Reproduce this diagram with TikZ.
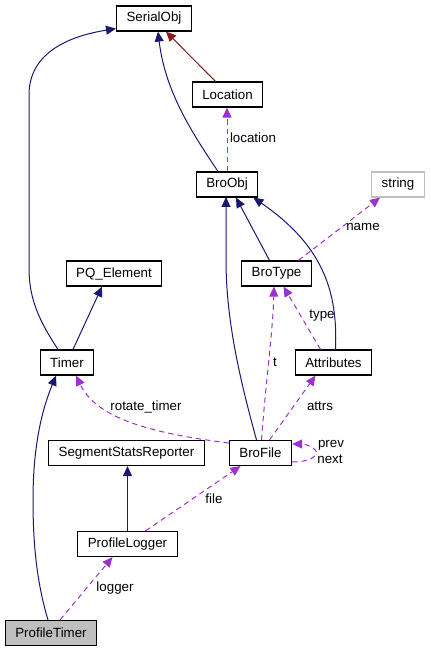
\documentclass[tikz,border=0pt]{standalone}
\usepackage{fontspec}
\setmainfont{Liberation Sans}
\usepackage{xcolor}
\usetikzlibrary{arrows.meta,calc}
\definecolor{inhblue}{HTML}{191970}
\definecolor{usepurple}{HTML}{9A32CD}
\definecolor{tplred}{HTML}{8B1A1A}
\definecolor{boxgray}{HTML}{BFBFBF}
\tikzset{
  cls/.style={draw=black, line width=0.9pt, fill=white, inner xsep=7.5pt, inner ysep=0pt,
    minimum height=18.75pt, font=\fontsize{10}{12}\selectfont},
  inh/.style={draw=inhblue, line width=0.75pt, -{Triangle[length=7.5pt,width=6.75pt]}},
  tpl/.style={draw=tplred, line width=0.75pt, -{Triangle[length=7.5pt,width=6.75pt]}},
  usage/.style={draw=usepurple, line width=0.75pt, dash pattern=on 4pt off 3pt,
    -{Triangle[length=7.5pt,width=6.75pt]}},
  lbl/.style={font=\fontsize{10}{12}\selectfont, inner sep=0pt, text=black}
}
\begin{document}
\begin{tikzpicture}[x=0.75pt,y=-0.75pt]
\useasboundingbox (0,0) rectangle (431,652);

\node[cls] (serialobj) at (154,18.5) {SerialObj};
\node[cls] (location) at (227.5,94.5) {Location};
\node[cls] (broobj) at (227,184.5) {BroObj};
\node[cls, draw=boxgray] (string) at (398,184.5) {string};
\node[cls] (pq) at (114,273.5) {PQ\_Element};
\node[cls] (brotype) at (276.5,273.5) {BroType};
\node[cls] (timer) at (67,362.5) {Timer};
\node[cls] (attributes) at (333.5,362.5) {Attributes};
\node[cls] (ssr) at (126.5,453) {SegmentStatsReporter};
\node[cls] (brofile) at (260.5,453) {BroFile};
\node[cls] (plogger) at (127.5,544) {ProfileLogger};
\node[cls, fill=boxgray] (ptimer) at (51,633) {ProfileTimer};

\draw[inh] ($(timer.north)+(-9,0)$) .. controls (40,322) and (29,300) .. (29,268) -- (29,95)
  .. controls (29,52) and (70,36) .. ($(serialobj.south west)+(0,-3)$);
\draw[inh] ($(timer.north)+(6,0)$) -- ($(pq.south)+(-12,0)$);
\draw[inh] ($(ptimer.north)+(-3,0)$) .. controls (36,580) and (33,540) .. (33,500)
  .. controls (33,440) and (44,405) .. ($(timer.south)+(-11,0)$);
\draw[inh] (plogger.north) -- (plogger.north |- ssr.south);
\draw[inh] ($(brofile.north)+(-4,0)$) .. controls (240,380) and (226,320) .. (226,260) -- (226,197);
\draw[inh] ($(brotype.north)+(-7,0)$) -- ($(broobj.south)+(9,0)$);
\draw[inh] ($(attributes.north)+(2,0)$) .. controls (338,290) and (322,245) .. ($(broobj.south east)+(-5,0)$);
\draw[inh] ($(broobj.north)+(-9,0)$) .. controls (190,130) and (165,90) .. ($(serialobj.south)+(4,0)$);
\draw[tpl] ($(location.north)+(-12,0)$) -- ($(serialobj.south)+(12,0)$);

\draw[usage] ($(ptimer.north)+(9,0)$) -- ($(plogger.south)+(-15,0)$)
  node[lbl] at (115,588) {logger};
\draw[usage] ($(plogger.north)+(18,0)$) -- ($(brofile.south)+(-20,0)$)
  node[lbl] at (214,499) {file};
\draw[usage] ($(brofile.east)+(0,9)$) .. controls (308,462) and (318,457) .. (316,451)
  .. controls (314,447) and (305,444) .. ($(brofile.east)+(0,-9)$);
\node[lbl] (lblprev) at (331,445) {prev};
\node[lbl] (lblnext) at (330,459) {next};
\draw[usage] ($(brofile.west)+(0,-10)$) .. controls (140,432) and (95,415) .. ($(timer.south)+(9,0)$)
  node[lbl] at (146,407) {rotate\_timer};
\draw[usage] ($(brofile.north)+(1,0)$) .. controls (265,390) and (273,330) .. ($(brotype.south)+(-2.5,0)$)
  node[lbl] at (275,362) {t};
\draw[usage] ($(brofile.north)+(9,0)$) -- ($(attributes.south)+(-18,0)$)
  node[lbl] at (320,406) {attrs};
\draw[usage] ($(attributes.north)+(-13,0)$) -- ($(brotype.south)+(7,0)$)
  node[lbl] at (322,316) {type};
\draw[usage] ($(brotype.north)+(22,0)$) -- ($(string.south)+(-18,0)$)
  node[lbl] at (363,227) {name};
\draw[usage] (broobj.north) -- (broobj.north |- location.south)
  node[lbl] at (253,138) {location};
\end{tikzpicture}
\end{document}
